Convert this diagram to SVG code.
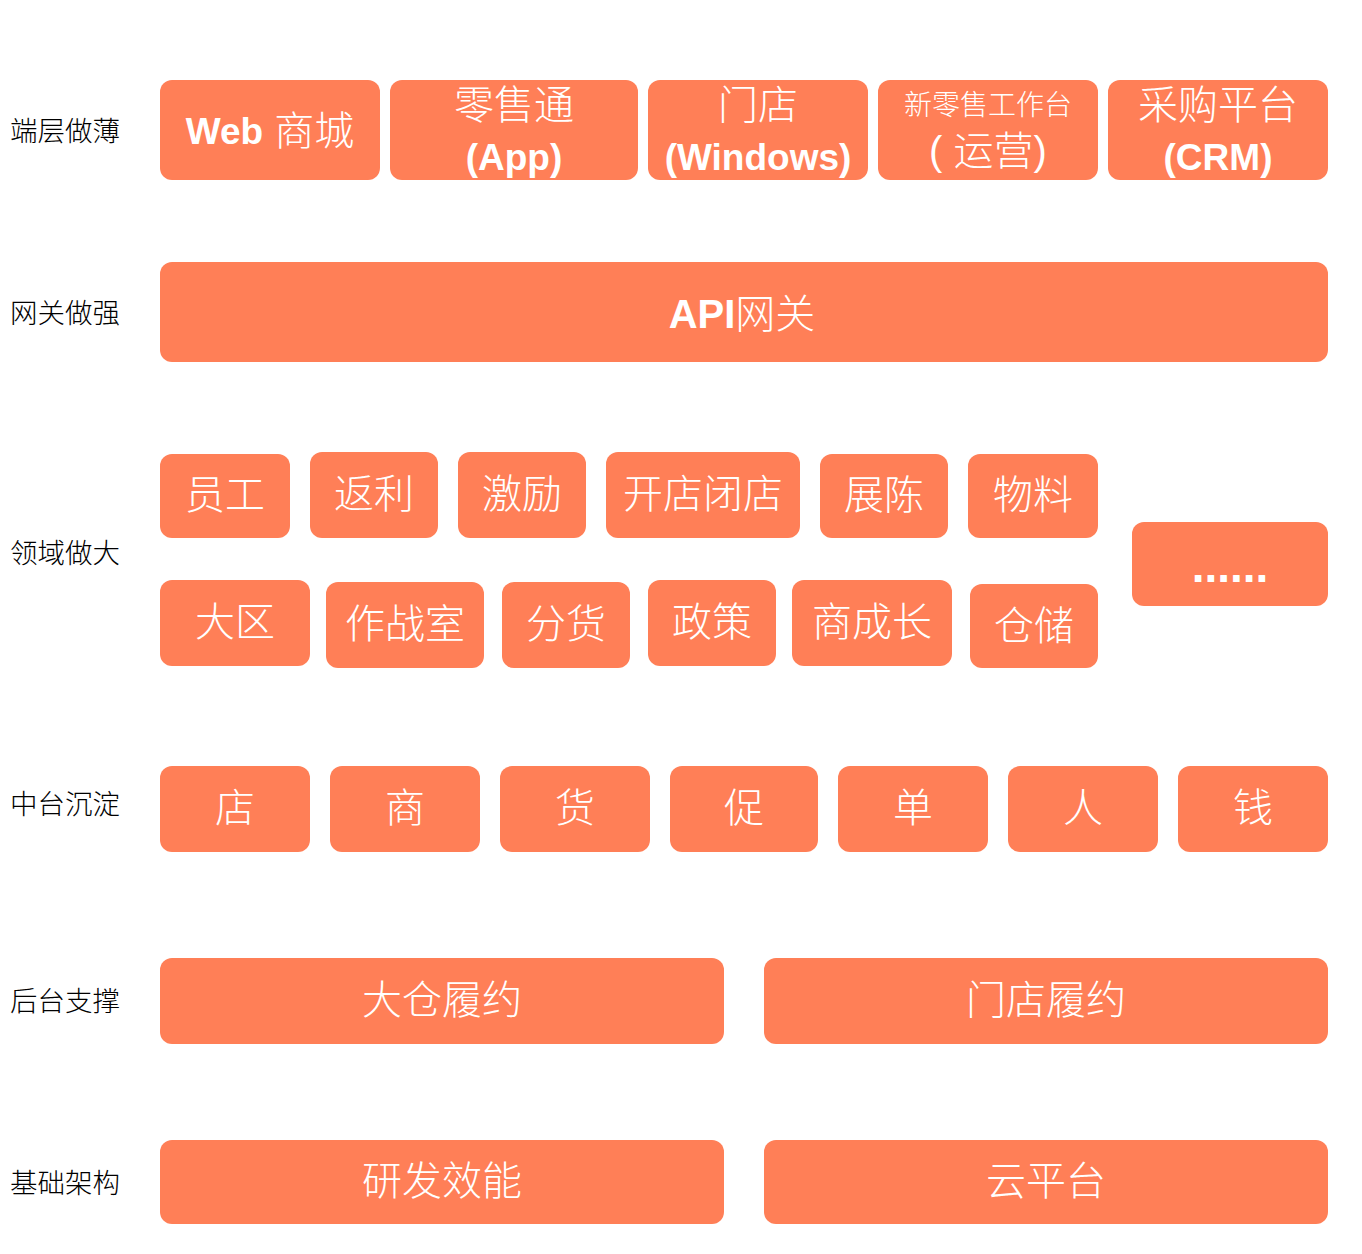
<svg xmlns="http://www.w3.org/2000/svg" width="1362" height="1254" viewBox="0 0 1362 1254">
<style>
.b{fill:#FF7F57}
.t{fill:#fff;font-family:"Liberation Sans","Noto Sans CJK SC",sans-serif;font-size:40px;font-weight:300;text-anchor:middle;dominant-baseline:central}
.s{font-size:28px}
.lat{font-weight:700;font-size:37px}
.l{fill:#000;font-family:"Noto Sans CJK SC",sans-serif;font-size:27.5px;font-weight:300;dominant-baseline:central}
</style>
<rect width="1362" height="1254" fill="#fff"/>
<g id="labels">
<text class="l" x="10" y="129">端层做薄</text>
<text class="l" x="10" y="311">网关做强</text>
<text class="l" x="10" y="551">领域做大</text>
<text class="l" x="10" y="802">中台沉淀</text>
<text class="l" x="10" y="999">后台支撑</text>
<text class="l" x="10" y="1181">基础架构</text>
</g>
<g id="n-web"><rect class="b" x="160" y="80" width="220" height="100" rx="12"/><text class="t" x="270" y="131"><tspan class="lat">Web</tspan> 商城</text></g>
<g id="n-lst"><rect class="b" x="390" y="80" width="248" height="100" rx="12"/><text class="t" x="514" y="105">零售通</text><text class="t lat" x="514" y="157">(App)</text></g>
<g id="n-md"><rect class="b" x="648" y="80" width="220" height="100" rx="12"/><text class="t" x="758" y="105">门店</text><text class="t lat" x="758" y="157">(Windows)</text></g>
<g id="n-xls"><rect class="b" x="878" y="80" width="220" height="100" rx="12"/><text class="t s" x="988" y="105">新零售工作台</text><text class="t" x="988" y="151">( 运营)</text></g>
<g id="n-cg"><rect class="b" x="1108" y="80" width="220" height="100" rx="12"/><text class="t" x="1218" y="105">采购平台</text><text class="t lat" x="1218" y="157">(CRM)</text></g>
<g id="n-api"><rect class="b" x="160" y="262" width="1168" height="100" rx="12"/><text class="t" x="742" y="314"><tspan style="font-weight:700">API</tspan>网关</text></g>
<g id="n-yg"><rect class="b" x="160" y="454" width="130" height="84" rx="12"/><text class="t" x="225" y="495">员工</text></g>
<g id="n-fl"><rect class="b" x="310" y="452" width="128" height="86" rx="12"/><text class="t" x="374" y="494">返利</text></g>
<g id="n-jl"><rect class="b" x="458" y="452" width="128" height="86" rx="12"/><text class="t" x="522" y="494">激励</text></g>
<g id="n-kd"><rect class="b" x="606" y="452" width="194" height="86" rx="12"/><text class="t" x="703" y="494">开店闭店</text></g>
<g id="n-zc"><rect class="b" x="820" y="454" width="128" height="84" rx="12"/><text class="t" x="884" y="495">展陈</text></g>
<g id="n-wl"><rect class="b" x="968" y="454" width="130" height="84" rx="12"/><text class="t" x="1033" y="495">物料</text></g>
<g id="n-dq"><rect class="b" x="160" y="580" width="150" height="86" rx="12"/><text class="t" x="235" y="622">大区</text></g>
<g id="n-zzs"><rect class="b" x="326" y="582" width="158" height="86" rx="12"/><text class="t" x="405" y="624">作战室</text></g>
<g id="n-fh"><rect class="b" x="502" y="582" width="128" height="86" rx="12"/><text class="t" x="566" y="624">分货</text></g>
<g id="n-zcc"><rect class="b" x="648" y="580" width="128" height="86" rx="12"/><text class="t" x="712" y="622">政策</text></g>
<g id="n-scz"><rect class="b" x="792" y="580" width="160" height="86" rx="12"/><text class="t" x="872" y="622">商成长</text></g>
<g id="n-cc"><rect class="b" x="970" y="584" width="128" height="84" rx="12"/><text class="t" x="1034" y="626">仓储</text></g>
<g id="n-more"><rect class="b" x="1132" y="522" width="196" height="84" rx="12"/><text class="t" x="1230" y="566" style="font-weight:700;font-size:46px">......</text></g>
<g id="n-d"><rect class="b" x="160" y="766" width="150" height="86" rx="12"/><text class="t" x="235" y="808">店</text></g>
<g id="n-s"><rect class="b" x="330" y="766" width="150" height="86" rx="12"/><text class="t" x="405" y="808">商</text></g>
<g id="n-h"><rect class="b" x="500" y="766" width="150" height="86" rx="12"/><text class="t" x="575" y="808">货</text></g>
<g id="n-c"><rect class="b" x="670" y="766" width="148" height="86" rx="12"/><text class="t" x="744" y="808">促</text></g>
<g id="n-dd"><rect class="b" x="838" y="766" width="150" height="86" rx="12"/><text class="t" x="913" y="808">单</text></g>
<g id="n-r"><rect class="b" x="1008" y="766" width="150" height="86" rx="12"/><text class="t" x="1083" y="808">人</text></g>
<g id="n-q"><rect class="b" x="1178" y="766" width="150" height="86" rx="12"/><text class="t" x="1253" y="808">钱</text></g>
<g id="n-dc"><rect class="b" x="160" y="958" width="564" height="86" rx="12"/><text class="t" x="442" y="1000">大仓履约</text></g>
<g id="n-mdly"><rect class="b" x="764" y="958" width="564" height="86" rx="12"/><text class="t" x="1046" y="1000">门店履约</text></g>
<g id="n-yf"><rect class="b" x="160" y="1140" width="564" height="84" rx="12"/><text class="t" x="442" y="1181">研发效能</text></g>
<g id="n-ypt"><rect class="b" x="764" y="1140" width="564" height="84" rx="12"/><text class="t" x="1046" y="1181">云平台</text></g>
<g id="connectors"/>
</svg>
